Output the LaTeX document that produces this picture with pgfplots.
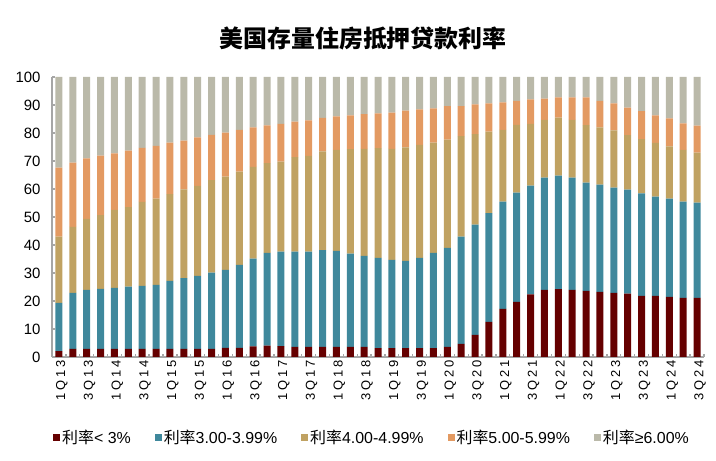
\documentclass[border=0pt]{standalone}
\usepackage{pgfplots}
\pgfplotsset{compat=1.18}
\usepackage{pgfplotstable}
\usepackage{fontspec}
\setmainfont{Liberation Sans}
\newfontfamily\spaced{Liberation Sans}[LetterSpace=22]
\newfontfamily\cjk{Noto Sans CJK SC}
\definecolor{cR}{HTML}{650000}
\definecolor{cB}{HTML}{3F889C}
\definecolor{cG}{HTML}{C0A262}
\definecolor{cO}{HTML}{E39A62}
\definecolor{cS}{HTML}{BAB9A9}
\definecolor{axg}{HTML}{A6A6A6}
\pgfplotstableread{
x r b g o s
0 2.1 17.2 23.7 24.6 32.4
1 2.9 20.0 23.6 22.9 30.6
2 2.9 21.1 25.3 21.6 29.1
3 2.9 21.4 26.4 21.2 28.1
4 2.9 21.8 27.8 20.2 27.3
5 2.9 22.2 28.4 20.2 26.3
6 2.9 22.5 30.0 19.3 25.3
7 2.9 22.9 30.8 18.8 24.6
8 2.9 24.3 31.0 18.4 23.4
9 2.9 25.3 31.7 17.4 22.7
10 2.9 26.1 32.1 17.3 21.6
11 2.9 27.2 33.1 16.1 20.7
12 3.3 27.8 33.3 15.7 19.9
13 3.3 29.6 33.3 14.9 18.9
14 3.8 31.3 32.8 14.1 18.0
15 4.1 33.1 32.0 13.5 17.3
16 3.9 33.7 32.2 13.5 16.7
17 3.6 34.0 33.8 12.7 15.9
18 3.6 34.0 34.2 12.7 15.5
19 3.6 34.6 35.2 12.0 14.6
20 3.6 34.3 36.1 11.9 14.1
21 3.6 33.3 37.3 12.1 13.7
22 3.6 32.5 38.2 12.4 13.3
23 3.2 32.2 39.2 12.4 13.0
24 3.2 31.5 39.6 13.0 12.7
25 3.2 31.1 40.6 13.1 12.0
26 3.2 32.2 40.4 12.6 11.6
27 3.2 34.0 39.4 12.2 11.2
28 3.6 35.4 38.6 12.0 10.4
29 4.7 38.3 35.9 10.7 10.4
30 7.9 39.4 32.3 10.6 9.8
31 12.5 38.9 29.1 10.1 9.4
32 17.2 38.3 25.6 9.8 9.1
33 19.7 39.0 24.2 8.6 8.5
34 22.4 38.8 22.1 8.7 8.0
35 24.0 40.1 20.6 7.6 7.7
36 24.2 40.6 20.7 7.2 7.3
37 24.0 40.1 20.6 8.0 7.3
38 23.6 38.7 20.5 9.9 7.3
39 23.3 38.3 20.4 9.5 8.5
40 22.9 37.6 20.4 9.7 9.4
41 22.6 37.2 19.4 9.9 10.9
42 21.8 36.6 19.4 10.0 12.2
43 21.8 35.5 19.2 9.8 13.7
44 21.5 35.1 18.6 10.0 14.8
45 21.1 34.4 18.5 9.4 16.6
46 21.1 34.0 17.9 9.6 17.4
}\datatable
\begin{document}
\begin{tikzpicture}
\useasboundingbox (0,0) rectangle (716bp,461bp);
\begin{axis}[
  at={(52bp,104bp)}, anchor=south west,
  scale only axis, width=652bp, height=280bp,
  ybar stacked, bar width=7bp,
  xmin=-0.5, xmax=46.5, ymin=0, ymax=100,
  axis x line*=bottom, axis y line*=left,
  axis line style={axg, line width=1.3bp, -},
  xtick={0,2,...,46},
  xticklabels={1Q13,3Q13,1Q14,3Q14,1Q15,3Q15,1Q16,3Q16,1Q17,3Q17,1Q18,3Q18,1Q19,3Q19,1Q20,3Q20,1Q21,3Q21,1Q22,3Q22,1Q23,3Q23,1Q24,3Q24},
  major x tick style={draw=none},
  minor xtick={-0.5,0.5,...,46.5},
  minor x tick style={axg, line width=1.3bp},
  minor tick length=3bp,
  ytick={0,10,...,100},
  y tick style={axg, line width=1.3bp},
  major tick length=3bp,
  tick align=inside,
  xticklabel style={rotate=90, anchor=east, font=\spaced\fontsize{13}{15}\selectfont, yshift=-3bp},
  yticklabel style={font=\fontsize{15}{17}\selectfont, xshift=-8bp},
  /pgf/number format/assume math mode=true,
  legend columns=5,
  legend style={at={(0.0015,-0.286)}, anchor=west, draw=none, fill=none, inner sep=0pt,
    font=\fontsize{16}{18}\selectfont,
    /tikz/every even column/.append style={column sep=22bp}},
  legend image code/.code={\fill[#1] (0bp,-3.5bp) rectangle (7bp,3.5bp);},
]
\addplot[fill=cR, draw=none] table[x=x, y=r] {\datatable};
\addplot[fill=cB, draw=none] table[x=x, y=b] {\datatable};
\addplot[fill=cG, draw=none] table[x=x, y=g] {\datatable};
\addplot[fill=cO, draw=none] table[x=x, y=o] {\datatable};
\addplot[fill=cS, draw=none] table[x=x, y=s] {\datatable};
\legend{{\cjk 利率}< 3\%, {\cjk 利率}3.00-3.99\%, {\cjk 利率}4.00-4.99\%, {\cjk 利率}5.00-5.99\%, {\cjk 利率}≥6.00\%}
\end{axis}
\node[font=\cjk\bfseries\fontsize{24}{28}\selectfont] at (363bp,423bp) {美国存量住房抵押贷款利率};
\end{tikzpicture}
\end{document}
